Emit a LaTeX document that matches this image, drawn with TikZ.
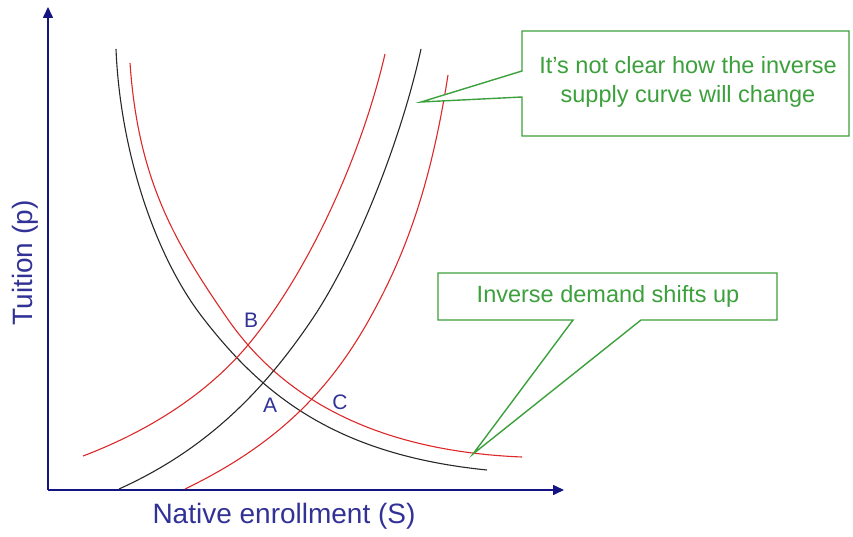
\documentclass[tikz,border=0pt]{standalone}
\usepackage{fontspec}
\setmainfont{Liberation Sans}
\usetikzlibrary{arrows.meta}
\definecolor{axisblue}{RGB}{20,20,130}
\definecolor{lblblue}{RGB}{50,50,150}
\definecolor{cgreen}{RGB}{60,160,60}
\definecolor{cred}{RGB}{220,40,40}
\definecolor{cblack}{RGB}{40,40,40}
\tikzset{
  axisline/.style={draw=axisblue,line width=1.6pt,-{Triangle[length=11pt,width=10pt]}},
  redcurve/.style={draw=cred,line width=1.1pt},
  blackcurve/.style={draw=cblack,line width=1.1pt},
  callout/.style={draw=cgreen,line width=1.4pt,line join=miter,fill=white},
  ctext/.style={text=cgreen,font=\fontsize{23.5}{29.5}\selectfont,align=center},
  ptlabel/.style={text=lblblue,font=\fontsize{21}{23}\selectfont},
  axlabel/.style={text=lblblue,font=\fontsize{28}{30}\selectfont}
}
\begin{document}
\begin{tikzpicture}[x=1pt,y=-1pt]
\useasboundingbox (0,0) rectangle (853,537);
% axes
\coordinate (O) at (48,490);
\coordinate (Ytop) at (48,7);
\coordinate (Xend) at (564,490);
\draw[axisline] (O) -- (Ytop);
\draw[axisline] (O) -- (Xend);
% demand curves
\draw[blackcurve] (116,49) .. controls (120,149) and (154,255) .. (203,318)
                           .. controls (264,397) and (338,455) .. (487,470);
\draw[redcurve] (130,63) .. controls (138,178) and (173,240) .. (227,318)
                         .. controls (272.4,384) and (357,450.4) .. (522,457);
% supply curves
\draw[blackcurve] (119,489) .. controls (201,452) and (260,397) .. (313,318)
                            .. controls (357.4,251.4) and (401.9,136.9) .. (421,49);
\draw[redcurve] (83,456) .. controls (153,429.4) and (209.6,391) .. (248,345)
                         .. controls (305.6,275.9) and (360.1,161.1) .. (385,54);
\draw[redcurve] (185,489) .. controls (275,445.5) and (328.7,392.3) .. (370,318)
                          .. controls (406.5,252.5) and (431,183.7) .. (448,75);
% callout 1
\coordinate (t1) at (421,102);
\draw[callout] (522,31) -- (849,31) -- (849,136) -- (522,136) -- (522,97) -- (t1) -- (522,71) -- cycle;
\node[ctext] (c1) at (688,82) {It’s not clear how the inverse\\supply curve will change};
% callout 2
\coordinate (t2) at (473,454);
\draw[callout] (438,273) -- (777,273) -- (777,320) -- (641,320) -- (t2) -- (573,320) -- (438,320) -- cycle;
\node[ctext] (c2) at (608,296) {Inverse demand shifts up};
% point labels
\node[ptlabel] (A) at (270,405) {A};
\node[ptlabel] (B) at (251,320) {B};
\node[ptlabel] (C) at (340,402) {C};
% axis labels
\node[axlabel,rotate=90] (yl) at (25,263) {Tuition (p)};
\node[axlabel] (xl) at (284,516) {Native enrollment (S)};
\end{tikzpicture}
\end{document}
